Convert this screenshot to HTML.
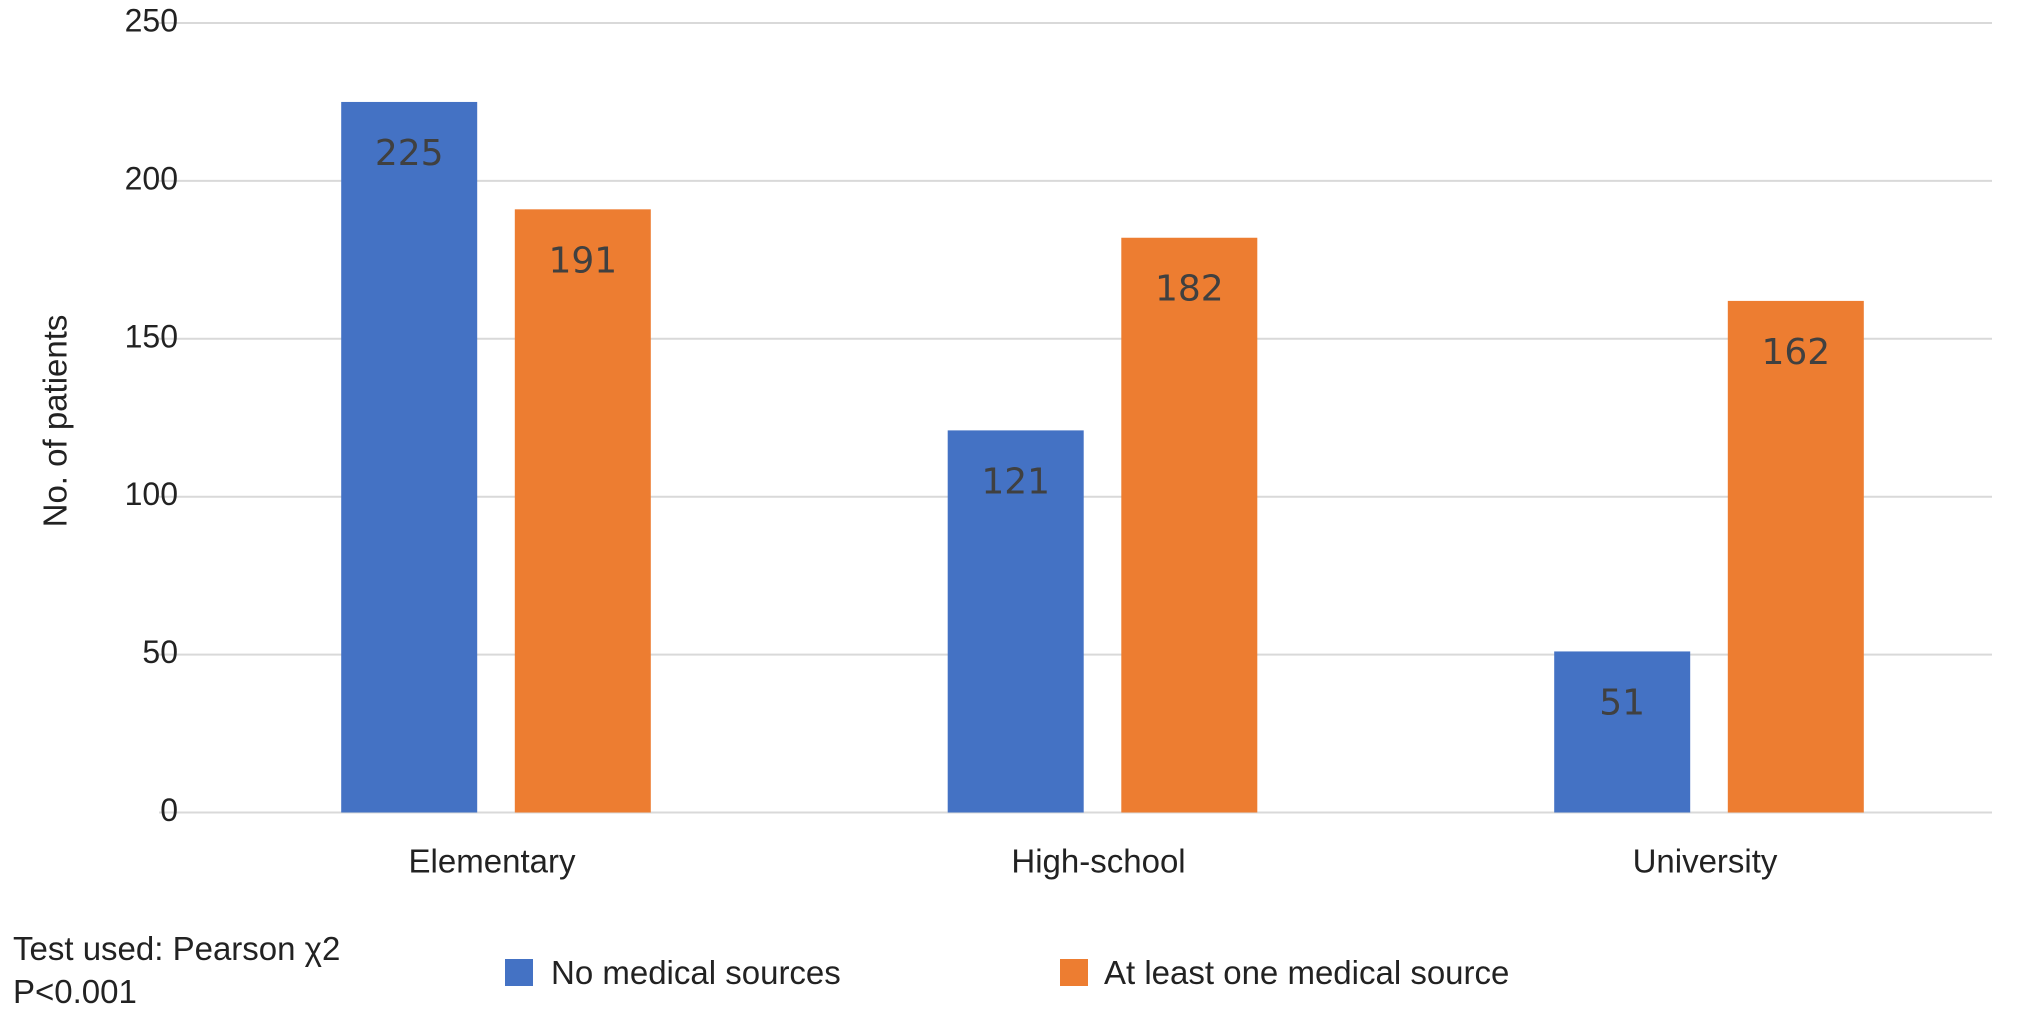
<!DOCTYPE html>
<html><head><meta charset="utf-8"><style>
html,body{margin:0;padding:0;background:#fff;}
svg{display:block;font-family:"Liberation Sans",sans-serif;}
</style></head><body>
<svg id="chart" width="2032" height="1015" viewBox="0 0 2032 1015">
<g id="grid"></g>
<g id="yticks"></g>
<g id="bars"></g>
<g id="xlabels"></g>
<text x="58" y="421" transform="rotate(-90 58 421)" text-anchor="middle" dominant-baseline="middle" font-size="33" fill="#222">No. of patients</text>
<text x="13" y="960" font-size="33" fill="#222">Test used: Pearson χ2</text>
<text x="13" y="1003" font-size="33" fill="#222">P&lt;0.001</text>
<g>
<rect x="505" y="959" width="28" height="27" fill="#4472C4"></rect>
<text x="551" y="984" font-size="33" fill="#222">No medical sources</text>
<rect x="1060" y="959" width="28" height="27" fill="#ED7D31"></rect>
<text x="1104" y="984" font-size="33" fill="#222">At least one medical source</text>
</g>
</svg>
<script>
const categories = ["Elementary", "High-school", "University"];
const noMedical = [225, 121, 51];
const atLeastOne = [191, 182, 162];
const yTicks = [0, 50, 100, 150, 200, 250];

const NS = "http://www.w3.org/2000/svg";
const plotLeft = 159, plotRight = 1992, yTop = 23, yBottom = 812.5, yMax = 250;
function y(v){ return yBottom - (v / yMax) * (yBottom - yTop); }
function xCenter(i){ return 496 + 606.5 * i; }
const barW = 136, gap = 37.6;
function mk(tag, attrs, parent){ const e = document.createElementNS(NS, tag); for (const k in attrs) e.setAttribute(k, attrs[k]); parent.appendChild(e); return e; }

const grid = document.getElementById('grid'), yt = document.getElementById('yticks');
yTicks.forEach(t => {
  const l = mk('line', {x1: plotLeft, x2: plotRight, y1: y(t), y2: y(t), stroke: '#d9d9d9', 'stroke-width': 2}, grid);
  
  
  const tx = mk('text', {x: 178, y: y(t), 'text-anchor': 'end', 'dominant-baseline': 'middle', 'font-size': 32, fill: '#222'}, yt);
  tx.textContent = t;
  
  
});

const bars = document.getElementById('bars'), xl = document.getElementById('xlabels');
categories.forEach((c, i) => {
  const cx = xCenter(i);
  [[noMedical, '#4472C4', cx - gap/2 - barW, 'no-medical'], [atLeastOne, '#ED7D31', cx + gap/2, 'medical']].forEach(s => {
    const v = s[0][i];
    const r = mk('rect', {x: s[2], y: y(v), width: barW, height: yBottom - y(v), fill: s[1]}, bars);
    
    
    const lb = mk('text', {x: s[2] + barW/2, y: y(v) + 53, 'text-anchor': 'middle', 'dominant-baseline': 'middle', 'font-size': 36, fill: '#404040', 'font-family': '"DejaVu Sans", sans-serif'}, bars);
    lb.textContent = v;
    
    
  });
  const t = mk('text', {x: cx - 4, y: 864, 'text-anchor': 'middle', 'dominant-baseline': 'middle', 'font-size': 33, fill: '#222'}, xl);
  t.textContent = c;
  
  
});
</script>
</body></html>
